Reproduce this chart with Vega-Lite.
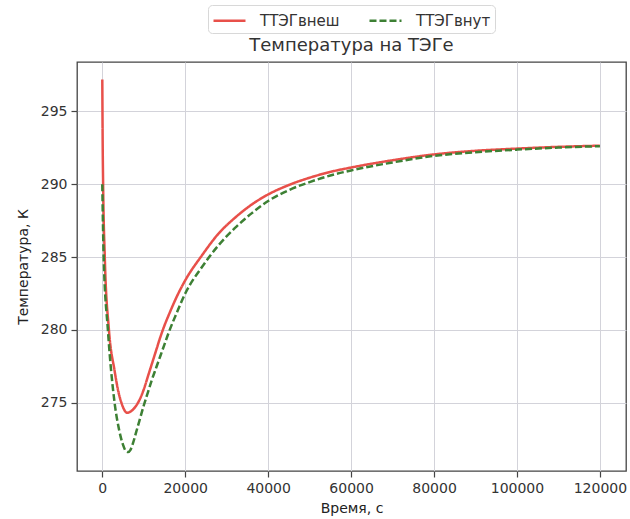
{
  "$schema": "https://vega.github.io/schema/vega-lite/v6.json",
  "width": 549,
  "height": 409,
  "autosize": {"type": "none"},
  "padding": {"left": 77, "top": 62, "right": 4, "bottom": 48},
  "background": "white",
  "title": {"text": "Температура на ТЭГе", "fontSize": 18, "font": "DejaVu Sans", "fontWeight": "normal", "color": "#333333", "offset": 7, "dy": 57, "anchor": "middle"},
  "config": {
    "font": "DejaVu Sans",
    "view": {"stroke": "#444444", "strokeWidth": 1.3},
    "axis": {"gridColor": "#d3d3da", "gridWidth": 1, "domain": false, "tickColor": "#444444", "tickSize": 6, "tickWidth": 1.2, "labelFontSize": 14, "labelColor": "#333333", "titleFontSize": 14, "titleFontWeight": "normal", "titleColor": "#222222", "labelPadding": 4}
  },
  "data": {"values": [
    {"t": 0, "T": 297.2, "s": "ТТЭГвнеш"},
    {"t": 100, "T": 292.6, "s": "ТТЭГвнеш"},
    {"t": 200, "T": 290.0, "s": "ТТЭГвнеш"},
    {"t": 600, "T": 285.0, "s": "ТТЭГвнеш"},
    {"t": 1600, "T": 280.0, "s": "ТТЭГвнеш"},
    {"t": 2960, "T": 277.2, "s": "ТТЭГвнеш"},
    {"t": 4000, "T": 275.6, "s": "ТТЭГвнеш"},
    {"t": 4600, "T": 275.0, "s": "ТТЭГвнеш"},
    {"t": 5300, "T": 274.5, "s": "ТТЭГвнеш"},
    {"t": 5930, "T": 274.3, "s": "ТТЭГвнеш"},
    {"t": 6600, "T": 274.35, "s": "ТТЭГвнеш"},
    {"t": 7500, "T": 274.55, "s": "ТТЭГвнеш"},
    {"t": 8200, "T": 274.8, "s": "ТТЭГвнеш"},
    {"t": 9000, "T": 275.2, "s": "ТТЭГвнеш"},
    {"t": 10000, "T": 275.9, "s": "ТТЭГвнеш"},
    {"t": 11000, "T": 276.8, "s": "ТТЭГвнеш"},
    {"t": 12000, "T": 277.7, "s": "ТТЭГвнеш"},
    {"t": 13000, "T": 278.6, "s": "ТТЭГвнеш"},
    {"t": 14000, "T": 279.5, "s": "ТТЭГвнеш"},
    {"t": 15000, "T": 280.3, "s": "ТТЭГвнеш"},
    {"t": 16000, "T": 281.0, "s": "ТТЭГвнеш"},
    {"t": 18000, "T": 282.3, "s": "ТТЭГвнеш"},
    {"t": 20000, "T": 283.4, "s": "ТТЭГвнеш"},
    {"t": 24000, "T": 285.1, "s": "ТТЭГвнеш"},
    {"t": 28000, "T": 286.6, "s": "ТТЭГвнеш"},
    {"t": 32000, "T": 287.7, "s": "ТТЭГвнеш"},
    {"t": 36000, "T": 288.6, "s": "ТТЭГвнеш"},
    {"t": 40000, "T": 289.3, "s": "ТТЭГвнеш"},
    {"t": 45000, "T": 289.95, "s": "ТТЭГвнеш"},
    {"t": 50000, "T": 290.45, "s": "ТТЭГвнеш"},
    {"t": 55000, "T": 290.85, "s": "ТТЭГвнеш"},
    {"t": 60000, "T": 291.15, "s": "ТТЭГвнеш"},
    {"t": 70000, "T": 291.65, "s": "ТТЭГвнеш"},
    {"t": 80000, "T": 292.05, "s": "ТТЭГвнеш"},
    {"t": 90000, "T": 292.3, "s": "ТТЭГвнеш"},
    {"t": 100000, "T": 292.45, "s": "ТТЭГвнеш"},
    {"t": 110000, "T": 292.57, "s": "ТТЭГвнеш"},
    {"t": 120000, "T": 292.65, "s": "ТТЭГвнеш"},
    {"t": 0, "T": 290.0, "s": "ТТЭГвнут"},
    {"t": 330, "T": 285.0, "s": "ТТЭГвнут"},
    {"t": 1350, "T": 280.0, "s": "ТТЭГвнут"},
    {"t": 2960, "T": 275.0, "s": "ТТЭГвнут"},
    {"t": 4000, "T": 273.2, "s": "ТТЭГвнут"},
    {"t": 5000, "T": 272.1, "s": "ТТЭГвнут"},
    {"t": 5600, "T": 271.7, "s": "ТТЭГвнут"},
    {"t": 6200, "T": 271.6, "s": "ТТЭГвнут"},
    {"t": 6800, "T": 271.75, "s": "ТТЭГвнут"},
    {"t": 7500, "T": 272.3, "s": "ТТЭГвнут"},
    {"t": 8200, "T": 273.0, "s": "ТТЭГвнут"},
    {"t": 9000, "T": 273.8, "s": "ТТЭГвнут"},
    {"t": 10000, "T": 274.8, "s": "ТТЭГвнут"},
    {"t": 11000, "T": 275.7, "s": "ТТЭГвнут"},
    {"t": 12000, "T": 276.6, "s": "ТТЭГвнут"},
    {"t": 13000, "T": 277.4, "s": "ТТЭГвнут"},
    {"t": 14000, "T": 278.2, "s": "ТТЭГвнут"},
    {"t": 15000, "T": 279.0, "s": "ТТЭГвнут"},
    {"t": 16000, "T": 279.8, "s": "ТТЭГвнут"},
    {"t": 18000, "T": 281.2, "s": "ТТЭГвнут"},
    {"t": 20000, "T": 282.5, "s": "ТТЭГвнут"},
    {"t": 24000, "T": 284.3, "s": "ТТЭГвнут"},
    {"t": 28000, "T": 285.8, "s": "ТТЭГвнут"},
    {"t": 32000, "T": 287.0, "s": "ТТЭГвнут"},
    {"t": 36000, "T": 288.0, "s": "ТТЭГвнут"},
    {"t": 40000, "T": 288.85, "s": "ТТЭГвнут"},
    {"t": 45000, "T": 289.6, "s": "ТТЭГвнут"},
    {"t": 50000, "T": 290.15, "s": "ТТЭГвнут"},
    {"t": 55000, "T": 290.6, "s": "ТТЭГвнут"},
    {"t": 60000, "T": 290.95, "s": "ТТЭГвнут"},
    {"t": 70000, "T": 291.5, "s": "ТТЭГвнут"},
    {"t": 80000, "T": 291.95, "s": "ТТЭГвнут"},
    {"t": 90000, "T": 292.2, "s": "ТТЭГвнут"},
    {"t": 100000, "T": 292.38, "s": "ТТЭГвнут"},
    {"t": 110000, "T": 292.52, "s": "ТТЭГвнут"},
    {"t": 120000, "T": 292.62, "s": "ТТЭГвнут"}
  ]},
  "mark": {"type": "line", "strokeWidth": 2.5, "interpolate": "monotone"},
  "encoding": {
    "x": {"field": "t", "type": "quantitative", "scale": {"domain": [-6100, 126300], "nice": false, "zero": false},
          "axis": {"values": [0, 20000, 40000, 60000, 80000, 100000, 120000], "format": "d", "title": "Время, с", "titlePadding": 6}},
    "y": {"field": "T", "type": "quantitative", "scale": {"domain": [270.3, 298.4], "nice": false, "zero": false},
          "axis": {"values": [275, 280, 285, 290, 295], "title": "Температура, К", "titlePadding": 10}},
    "color": {"field": "s", "type": "nominal", "title": null,
              "scale": {"domain": ["ТТЭГвнеш", "ТТЭГвнут"], "range": ["#e8504a", "#3d8034"]},
              "legend": {"orient": "none", "legendX": 131, "legendY": -57, "direction": "horizontal", "symbolType": "M-1,0L2.2,0", "symbolSize": 400, "symbolStrokeWidth": 2.5, "labelFontSize": 15, "labelColor": "#333333", "strokeColor": "#d8d8d8", "fillColor": "white", "padding": 4, "cornerRadius": 4, "columnPadding": 24, "labelOffset": 25}},
    "strokeDash": {"field": "s", "type": "nominal", "title": null,
              "scale": {"domain": ["ТТЭГвнеш", "ТТЭГвнут"], "range": [[1, 0], [7, 3]]}}
  }
}
